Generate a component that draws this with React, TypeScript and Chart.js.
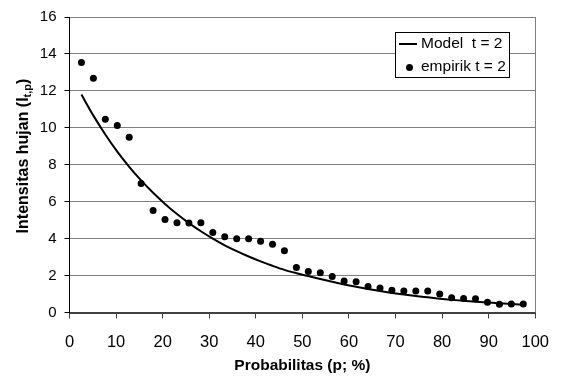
import React, { useEffect, useRef } from "react";
import { Chart, registerables } from "chart.js";

Chart.register(...registerables);

const probX = [
  2.56, 5.13, 7.69, 10.26, 12.82, 15.38, 17.95, 20.51, 23.08, 25.64,
  28.21, 30.77, 33.33, 35.9, 38.46, 41.03, 43.59, 46.15, 48.72, 51.28,
  53.85, 56.41, 58.97, 61.54, 64.1, 66.67, 69.23, 71.79, 74.36, 76.92,
  79.49, 82.05, 84.62, 87.18, 89.74, 92.31, 94.87, 97.44,
];

const empirik = [
  13.54, 12.69, 10.46, 10.12, 9.49, 6.98, 5.52, 5.03, 4.86, 4.85,
  4.86, 4.33, 4.1, 3.99, 3.99, 3.86, 3.7, 3.35, 2.43, 2.22,
  2.15, 1.95, 1.71, 1.66, 1.41, 1.32, 1.2, 1.16, 1.16, 1.16,
  1.0, 0.8, 0.76, 0.75, 0.55, 0.45, 0.46, 0.46,
];

const model = [
  11.8, 10.66, 9.64, 8.71, 7.89, 7.15, 6.48, 5.88, 5.33, 4.84,
  4.4, 4.0, 3.64, 3.32, 3.03, 2.77, 2.53, 2.31, 2.13, 1.97,
  1.81, 1.66, 1.52, 1.39, 1.27, 1.16, 1.06, 0.97, 0.89, 0.82,
  0.75, 0.69, 0.63, 0.58, 0.54, 0.5, 0.46, 0.43,
];

const seriesLabels = ["Model  t = 2", "empirik t = 2"];
const xTitle = "Probabilitas (p; %)";
const yTitleMain = "Intensitas hujan (I";
const yTitleSub = "t,p";
const yTitleEnd = ")";

const FONT = "'Liberation Sans', Arial, sans-serif";

const extrasPlugin = {
  id: "extras",
  afterDraw(chart: any) {
    const ctx = chart.ctx as CanvasRenderingContext2D;
    const area = chart.chartArea;
    ctx.save();
    // right border of plot area
    ctx.strokeStyle = "#808080";
    ctx.lineWidth = 1;
    ctx.beginPath();
    ctx.moveTo(Math.round(area.right) + 0.5, area.top);
    ctx.lineTo(Math.round(area.right) + 0.5, area.bottom);
    ctx.stroke();

    // y axis title with subscript
    ctx.fillStyle = "#000";
    const mainFont = `bold 16px ${FONT}`;
    const subFont = `bold 11px ${FONT}`;
    ctx.font = mainFont;
    const w1 = ctx.measureText(yTitleMain).width;
    const w3 = ctx.measureText(yTitleEnd).width;
    ctx.font = subFont;
    const w2 = ctx.measureText(yTitleSub).width;
    const total = w1 + w2 + w3;
    const cx = 24;
    const cy = 156;
    ctx.translate(cx, cy);
    ctx.rotate(-Math.PI / 2);
    ctx.textBaseline = "middle";
    ctx.textAlign = "left";
    let x = -total / 2;
    ctx.font = mainFont;
    ctx.fillText(yTitleMain, x, 0);
    x += w1;
    ctx.font = subFont;
    ctx.fillText(yTitleSub, x, 4);
    x += w2;
    ctx.font = mainFont;
    ctx.fillText(yTitleEnd, x, 0);
    ctx.restore();

    // legend box
    ctx.save();
    const bx = 395.5, by = 32.5, bw = 114, bh = 45;
    ctx.fillStyle = "#fff";
    ctx.fillRect(bx, by, bw, bh);
    ctx.strokeStyle = "#000";
    ctx.lineWidth = 1;
    ctx.strokeRect(bx, by, bw, bh);
    ctx.lineWidth = 2;
    ctx.beginPath();
    ctx.moveTo(399, 44);
    ctx.lineTo(417, 44);
    ctx.stroke();
    ctx.fillStyle = "#000";
    ctx.beginPath();
    ctx.arc(409.5, 67.5, 3.5, 0, Math.PI * 2);
    ctx.fill();
    ctx.font = `15.5px ${FONT}`;
    ctx.textBaseline = "middle";
    ctx.textAlign = "left";
    ctx.fillText(chart.data.datasets[0].label, 421, 44);
    ctx.fillText(chart.data.datasets[1].label, 421, 67);
    ctx.restore();
  },
};

export default function App() {
  const ref = useRef<HTMLCanvasElement | null>(null);
  useEffect(() => {
    document.body.style.margin = "0";
    if (!ref.current) return;
    const chart = new Chart(ref.current, {
      type: "scatter",
      data: {
        datasets: [
          {
            label: seriesLabels[0],
            data: probX.map((x, i) => ({ x, y: model[i] })),
            showLine: true,
            borderColor: "#000",
            borderWidth: 2,
            pointRadius: 0,
            cubicInterpolationMode: "monotone",
            fill: false,
          } as any,
          {
            label: seriesLabels[1],
            data: probX.map((x, i) => ({ x, y: empirik[i] })),
            showLine: false,
            backgroundColor: "#000",
            borderColor: "#000",
            pointRadius: 3.5,
            pointBorderWidth: 0,
          },
        ],
      },
      options: {
        animation: false,
        responsive: false,
        layout: { padding: { top: 16.5, right: 24, left: 0, bottom: 0 } },
        plugins: {
          legend: { display: false },
          tooltip: { enabled: false },
        },
        scales: {
          x: {
            type: "linear",
            min: 0,
            max: 100,
            ticks: {
              stepSize: 10,
              color: "#000",
              font: { family: FONT, size: 16.5 },
              padding: 14,
            },
            grid: {
              drawOnChartArea: false,
              drawTicks: true,
              tickLength: 6,
              color: "#404040",
            },
            border: { color: "#404040", width: 2 },
            title: {
              display: true,
              text: xTitle,
              color: "#000",
              font: { family: FONT, size: 15.5, weight: "bold" },
              padding: { top: 0, bottom: 1 },
            },
            afterFit(scale: any) {
              scale.height = 63.5;
            },
          },
          y: {
            type: "linear",
            min: 0,
            max: 16,
            ticks: {
              stepSize: 2,
              color: "#000",
              font: { family: FONT, size: 15 },
              padding: 8,
            },
            grid: {
              color: "#808080",
              lineWidth: 1,
              drawTicks: true,
              tickLength: 5,
              tickColor: "#000",
            },
            border: { color: "#000", width: 1 },
            afterFit(scale: any) {
              scale.width = 69.5;
            },
          },
        },
      },
      plugins: [extrasPlugin],
    });
    return () => chart.destroy();
  }, []);
  return <canvas ref={ref} width={563} height={376} style={{ display: "block" }} />;
}
